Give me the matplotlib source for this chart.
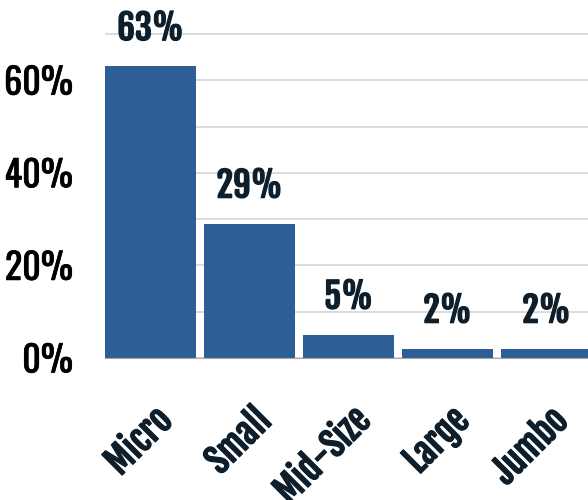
import matplotlib
matplotlib.use("Agg")
import matplotlib.pyplot as plt
import matplotlib.transforms as mtransforms
import matplotlib.patheffects as pe
from matplotlib.ticker import FuncFormatter

# --- Data ---
categories = ["Micro", "Small", "Mid-Size", "Large", "Jumbo"]
shares = [63, 29, 5, 2, 2]
value_labels = ["63%", "29%", "5%", "2%", "2%"]
ytick_values = [0, 20, 40, 60]
grid_minor = [10, 30, 50, 70]

bar_color = "#2E5E96"
label_color = "#0E1E2B"
tick_font = ["Oswald", "DejaVu Sans"]
bold_font = ["Fjalla One", "Oswald", "DejaVu Sans"]

fig = plt.figure(figsize=(5.88, 5.0), dpi=100)
ax = fig.add_axes([105 / 588, 1 - 358 / 500, 1 - 105 / 588, 358 / 500])

x = range(len(categories))
ax.bar(x, shares, width=0.92, color=bar_color, zorder=3)

ax.set_xlim(-0.46, 4.42)
ax.set_ylim(0, 358 / 4.63)

ax.set_yticks(ytick_values)
ax.set_yticks(grid_minor, minor=True)
ax.grid(axis="y", which="both", color="#D4D4D4", linewidth=1.2, zorder=0)
ax.yaxis.set_major_formatter(FuncFormatter(lambda v, p: f"{v:.0f}%"))
ax.tick_params(axis="y", which="both", length=0, pad=23)
ax.tick_params(axis="x", length=0)

for s in ["top", "right", "left"]:
    ax.spines[s].set_visible(False)
ax.spines["bottom"].set_color("#AAAAAA")
ax.spines["bottom"].set_zorder(4)

for lab in ax.get_yticklabels():
    lab.set_fontfamily(tick_font)
    lab.set_fontsize(26)
    lab.set_color("black")
    lab.set_path_effects([pe.withStroke(linewidth=0.5, foreground="black")])

bold_fx = [pe.withStroke(linewidth=0.9, foreground=label_color)]

ax.set_xticks(list(x))
ax.set_xticklabels(categories, rotation=45, ha="right", rotation_mode="anchor",
                   fontsize=25, color=label_color, family=bold_font)
offset = mtransforms.ScaledTranslation(2 / 100, -38 / 100, fig.dpi_scale_trans)
for lab in ax.get_xticklabels():
    lab.set_transform(lab.get_transform() + offset)
    lab.set_path_effects(bold_fx)

for i, v in enumerate(shares):
    ax.annotate(value_labels[i], (i, v), xytext=(0, 13), textcoords="offset points",
                ha="center", va="bottom", fontsize=25,
                color=label_color, family=bold_font, path_effects=bold_fx)

fig.savefig("out.png", dpi=100)
